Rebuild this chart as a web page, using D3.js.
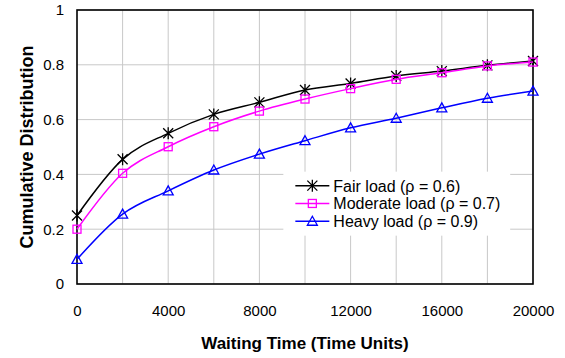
<!DOCTYPE html>
<html>
<head>
<meta charset="utf-8">
<script src="https://cdn.jsdelivr.net/npm/d3@7"></script>
<style>
  body { margin: 0; background: #fff; }
  svg text { font-family: "Liberation Sans", Arial, sans-serif; }
</style>
</head>
<body>
<div id="chart"></div>
<script>
// waiting time (time units)
const waitTimes = [0, 2000, 4000, 6000, 8000, 10000, 12000, 14000, 16000, 18000, 20000];
const fairLoad = [0.25, 0.455, 0.55, 0.619, 0.663, 0.708, 0.732, 0.759, 0.777, 0.798, 0.814];
const moderateLoad = [0.2, 0.404, 0.501, 0.574, 0.631, 0.675, 0.713, 0.747, 0.771, 0.796, 0.81];
const heavyLoad = [0.09, 0.255, 0.34, 0.416, 0.474, 0.523, 0.57, 0.605, 0.643, 0.678, 0.704];
const seriesNames = ['Fair load (\u03c1 = 0.6)', 'Moderate load (\u03c1 = 0.7)', 'Heavy load (\u03c1 = 0.9)'];
const xTicks = [0, 4000, 8000, 12000, 16000, 20000];
const xGrid = [2000, 4000, 6000, 8000, 10000, 12000, 14000, 16000, 18000, 20000];
const yTicks = [0, 0.2, 0.4, 0.6, 0.8, 1];

const width = 565;
const height = 358;
const margin = { top: 10, right: 32, bottom: 74, left: 77 };
const w = width - margin.left - margin.right;
const h = height - margin.top - margin.bottom;

const svg = d3.select('#chart')
  .append('svg')
  .attr('width', width)
  .attr('height', height);

const g = svg.append('g')
  .attr('transform', `translate(${margin.left},${margin.top})`);

const x = d3.scaleLinear().domain([0, 20000]).range([0, w]);
const y = d3.scaleLinear().domain([0, 1]).range([h, 0]);

// grid
g.append('g')
  .selectAll('line')
  .data(xGrid)
  .enter()
  .append('line')
  .attr('x1', d => x(d)).attr('x2', d => x(d))
  .attr('y1', 0).attr('y2', h)
  .attr('stroke', '#c8c8c8').attr('stroke-width', 1);

g.append('g')
  .selectAll('line')
  .data(yTicks)
  .enter()
  .append('line')
  .attr('x1', 0).attr('x2', w)
  .attr('y1', d => y(d)).attr('y2', d => y(d))
  .attr('stroke', '#c8c8c8').attr('stroke-width', 1);

// legend background hides grid behind it
const legend = g.append('g').attr('transform', `translate(${x(9050)},${y(0.41)})`);
legend.append('rect')
  .attr('width', x(9950)).attr('height', 64)
  .attr('fill', '#fff');

// axes
const xAxis = g.append('g')
  .attr('transform', `translate(0,${h})`)
  .call(d3.axisBottom(x).tickValues(xTicks).tickSize(0).tickPadding(21).tickFormat(d3.format('d')));
xAxis.select('.domain').remove();
xAxis.selectAll('text').style('font-size', '15px').attr('fill', '#000');

const yAxis = g.append('g')
  .call(d3.axisLeft(y).tickValues(yTicks).tickSize(0).tickPadding(13).tickFormat(d => d === 0 || d === 1 ? d : d.toFixed(1)));
yAxis.select('.domain').remove();
yAxis.selectAll('text').style('font-size', '15px').attr('fill', '#000');

g.append('rect')
  .attr('width', w).attr('height', h)
  .attr('fill', 'none')
  .attr('stroke', '#000').attr('stroke-width', 1.6);

// series
const series = [
  { name: seriesNames[0], values: fairLoad, color: '#000000', marker: 'star' },
  { name: seriesNames[1], values: moderateLoad, color: '#ff00ff', marker: 'square' },
  { name: seriesNames[2], values: heavyLoad, color: '#0000ff', marker: 'triangle' }
];

const line = d3.line()
  .x((d, i) => x(waitTimes[i]))
  .y(d => y(d))
  .curve(d3.curveCatmullRom.alpha(0));

function drawMarker(sel, type, color) {
  if (type === 'star') {
    sel.append('path')
      .attr('d', 'M-5,-5L5,5M-5,5L5,-5M0,-6L0,6')
      .attr('stroke', color).attr('stroke-width', 1.3).attr('fill', 'none');
  } else if (type === 'square') {
    sel.append('rect')
      .attr('x', -4).attr('y', -4).attr('width', 8).attr('height', 8)
      .attr('stroke', color).attr('stroke-width', 1.3).attr('fill', 'none');
  } else {
    sel.append('path')
      .attr('d', 'M0,-5L5,4L-5,4Z')
      .attr('stroke', color).attr('stroke-width', 1.3).attr('fill', 'none');
  }
}

series.forEach(s => {
  g.append('path')
    .datum(s.values)
    .attr('d', line)
    .attr('fill', 'none')
    .attr('stroke', s.color)
    .attr('stroke-width', 1.5);

  g.append('g')
    .selectAll('g')
    .data(s.values)
    .enter()
    .append('g')
    .attr('transform', (d, i) => `translate(${x(waitTimes[i])},${y(d)})`)
    .each(function () { drawMarker(d3.select(this), s.marker, s.color); });
});

// legend entries
series.forEach((s, i) => {
  const row = legend.append('g').attr('transform', `translate(0,${14 + i * 17.8})`);
  row.append('line')
    .attr('x1', 12).attr('x2', 46)
    .attr('stroke', s.color).attr('stroke-width', 1.5);
  const m = row.append('g').attr('transform', 'translate(29,0)');
  drawMarker(m, s.marker, s.color);
  row.append('text')
    .attr('x', 50).attr('y', 6)
    .style('font-size', '16px')
    .attr('fill', '#000')
    .text(s.name);
});

// axis titles
svg.append('text')
  .attr('x', margin.left + w / 2).attr('y', 349)
  .attr('text-anchor', 'middle')
  .style('font-size', '17px').style('font-weight', 'bold')
  .text('Waiting Time (Time Units)');

svg.append('text')
  .attr('transform', `translate(33,${margin.top + h / 2}) rotate(-90)`)
  .attr('text-anchor', 'middle')
  .style('font-size', '18px').style('font-weight', 'bold')
  .text('Cumulative Distribution');
</script>
</body>
</html>
